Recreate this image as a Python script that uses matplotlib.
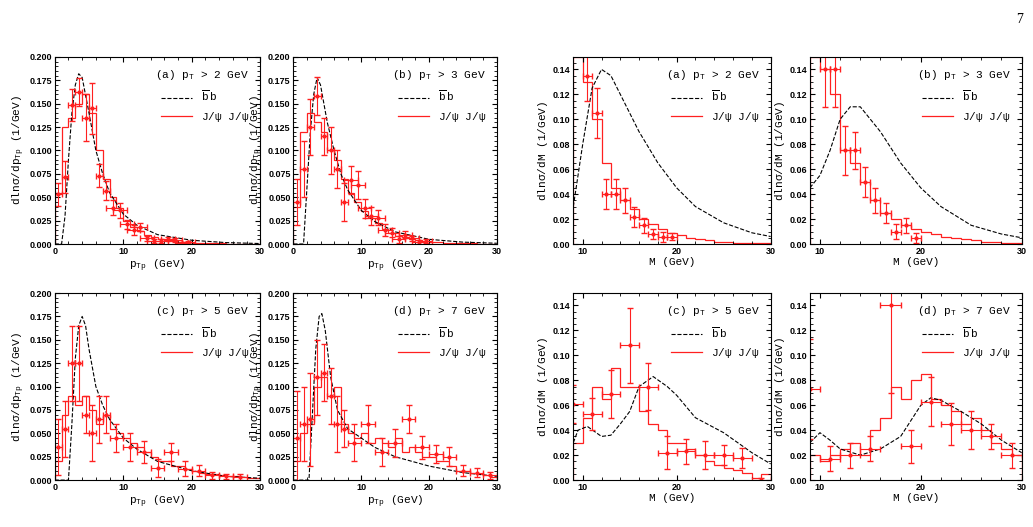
import numpy as np
import matplotlib
matplotlib.use("Agg")
import matplotlib.pyplot as plt
from matplotlib.lines import Line2D

plt.rcParams['font.family'] = ['Liberation Sans', 'DejaVu Sans']
plt.rcParams['font.size'] = 7
plt.rcParams['mathtext.default'] = 'regular'

# ---- pT panels: 1 GeV bins 0..30 ----
pt_edges = np.arange(0, 31, 1)
pt_labels = ["(a) $p_T$ > 2 GeV", "(b) $p_T$ > 3 GeV", "(c) $p_T$ > 5 GeV", "(d) $p_T$ > 7 GeV"]

pt_hist = [
    [0.055, 0.125, 0.135, 0.15, 0.16, 0.14, 0.10, 0.07, 0.05, 0.038, 0.025, 0.018, 0.014, 0.010, 0.007,
     0.005, 0.004, 0.003, 0.002, 0.002, 0.001, 0.001, 0.001, 0.0008, 0.0006, 0.0005, 0.0004, 0.0003, 0.0002, 0.0002],
    [0.04, 0.12, 0.14, 0.13, 0.12, 0.10, 0.09, 0.07, 0.055, 0.045, 0.035, 0.028, 0.022, 0.016, 0.012,
     0.009, 0.007, 0.005, 0.004, 0.003, 0.002, 0.002, 0.0015, 0.001, 0.001, 0.0008, 0.0006, 0.0005, 0.0004, 0.0003],
    [0.02, 0.07, 0.09, 0.08, 0.09, 0.075, 0.06, 0.07, 0.055, 0.05, 0.045, 0.04, 0.035, 0.03, 0.025,
     0.02, 0.02, 0.015, 0.015, 0.012, 0.01, 0.008, 0.007, 0.006, 0.005, 0.004, 0.004, 0.003, 0.002, 0.002],
    [0.02, 0.05, 0.06, 0.10, 0.11, 0.09, 0.10, 0.06, 0.05, 0.045, 0.05, 0.04, 0.045, 0.04, 0.035,
     0.045, 0.03, 0.035, 0.03, 0.025, 0.025, 0.02, 0.02, 0.015, 0.01, 0.01, 0.008, 0.006, 0.005, 0.003],
]

pt_bb_x = [
    [0, 1, 1.5, 2, 2.5, 3, 3.5, 4, 5, 6, 7, 8, 10, 12, 15, 20, 25, 30],
    [0, 1.5, 2, 2.5, 3, 3.5, 4, 5, 6, 7, 8, 10, 12, 15, 20, 25, 30],
    [0, 2, 2.5, 3, 3.5, 4, 4.5, 5, 6, 7, 8, 10, 12, 15, 20, 25, 30],
    [0, 2.3, 2.8, 3.3, 3.8, 4.2, 4.7, 5.5, 6.5, 8, 10, 12, 15, 20, 25, 30],
]
pt_bb_y = [
    [0, 0, 0.03, 0.09, 0.14, 0.17, 0.182, 0.178, 0.14, 0.10, 0.075, 0.055, 0.032, 0.02, 0.01, 0.004, 0.0015, 0.0005],
    [0, 0, 0.06, 0.12, 0.16, 0.178, 0.17, 0.13, 0.10, 0.075, 0.058, 0.036, 0.024, 0.013, 0.005, 0.002, 0.0008],
    [0, 0, 0.06, 0.13, 0.165, 0.175, 0.165, 0.14, 0.10, 0.08, 0.065, 0.045, 0.033, 0.02, 0.01, 0.004, 0.002],
    [0, 0, 0.07, 0.14, 0.175, 0.178, 0.16, 0.11, 0.075, 0.055, 0.045, 0.035, 0.025, 0.015, 0.008, 0.004],
]

pt_pts_x = [
    [0.5, 1.5, 2.5, 3.5, 4.5, 5.5, 6.5, 7.5, 8.5, 9.5, 10.5, 11.5, 12.5, 13.5, 14.5, 15.5, 16.5, 17.5, 18.5, 19.5],
    [0.5, 1.5, 2.5, 3.5, 4.5, 5.5, 6.5, 7.5, 8.5, 9.5, 10.5, 11.5, 12.5, 13.5, 14.5, 15.5, 16.5, 17.5, 18.5, 19.5],
    [0.5, 1.5, 2.5, 3.5, 4.5, 5.5, 6.5, 7.5, 9, 11, 13, 15, 17, 19, 21, 23, 25, 27],
    [0.5, 1.5, 2.5, 3.5, 4.5, 5.5, 6.5, 7.5, 9, 11, 13, 15, 17, 19, 21, 23, 25, 27, 29],
]
pt_pts_y = [
    [0.053, 0.072, 0.149, 0.162, 0.135, 0.145, 0.073, 0.057, 0.039, 0.036, 0.021, 0.015, 0.018, 0.006, 0.003,
     0.003, 0.005, 0.004, 0.001, 0.002],
    [0.045, 0.08, 0.125, 0.158, 0.115, 0.10, 0.08, 0.045, 0.068, 0.063, 0.038, 0.03, 0.028, 0.015, 0.012,
     0.005, 0.01, 0.006, 0.002, 0.003],
    [0.035, 0.055, 0.125, 0.125, 0.07, 0.05, 0.065, 0.07, 0.045, 0.035, 0.03, 0.013, 0.03, 0.012, 0.01, 0.005, 0.004, 0.003],
    [0.045, 0.06, 0.065, 0.11, 0.115, 0.09, 0.06, 0.055, 0.04, 0.06, 0.03, 0.04, 0.065, 0.035, 0.028, 0.025, 0.01, 0.008, 0.005],
]
pt_pts_err = [
    [0.012, 0.017, 0.017, 0.015, 0.025, 0.027, 0.012, 0.01, 0.008, 0.008, 0.005, 0.005, 0.004, 0.003, 0.002,
     0.002, 0.002, 0.002, 0.001, 0.001],
    [0.025, 0.03, 0.03, 0.02, 0.02, 0.025, 0.02, 0.02, 0.015, 0.015, 0.01, 0.01, 0.008, 0.006, 0.005,
     0.004, 0.004, 0.003, 0.002, 0.002],
    [0.03, 0.03, 0.04, 0.04, 0.02, 0.03, 0.025, 0.02, 0.015, 0.015, 0.012, 0.01, 0.01, 0.008, 0.006, 0.004, 0.003, 0.003],
    [0.05, 0.04, 0.05, 0.04, 0.03, 0.03, 0.03, 0.02, 0.02, 0.02, 0.015, 0.015, 0.015, 0.012, 0.01, 0.01, 0.006, 0.005, 0.004],
]

# ---- M panels: 1 GeV bins 9..30 ----
m_edges = np.arange(9, 31, 1)
m_hist = [
    [0.15, 0.13, 0.10, 0.065, 0.045, 0.035, 0.028, 0.02, 0.016, 0.012, 0.009, 0.007, 0.005, 0.004, 0.003,
     0.002, 0.002, 0.001, 0.001, 0.001, 0.0005],
    [0.15, 0.14, 0.12, 0.075, 0.065, 0.05, 0.035, 0.025, 0.02, 0.015, 0.012, 0.01, 0.008, 0.006, 0.005,
     0.004, 0.003, 0.002, 0.002, 0.001, 0.001],
    [0.03, 0.05, 0.075, 0.065, 0.09, 0.075, 0.075, 0.055, 0.045, 0.04, 0.03, 0.03, 0.025, 0.02, 0.015,
     0.012, 0.01, 0.008, 0.006, 0.002, 0.005],
    [0.02, 0.015, 0.02, 0.025, 0.03, 0.02, 0.04, 0.05, 0.075, 0.065, 0.08, 0.085, 0.065, 0.06, 0.055,
     0.045, 0.05, 0.04, 0.03, 0.025, 0.02],
]
m_bb_x = [
    [9, 10, 11, 12, 13, 14, 15, 16, 18, 20, 22, 25, 28, 30],
    [9, 10, 11, 12, 13, 14, 15, 16, 18, 20, 22, 25, 28, 30],
    [9, 9.5, 10.5, 12, 13, 14, 15, 16, 17.5, 19, 20, 22, 25, 28, 30],
    [9, 10, 11, 12, 14, 16, 18, 20, 21, 22, 24, 26, 28, 30],
]
m_bb_y = [
    [0.03, 0.08, 0.125, 0.14, 0.135, 0.12, 0.105, 0.09, 0.065, 0.045, 0.03, 0.017, 0.009, 0.006],
    [0.045, 0.055, 0.075, 0.10, 0.11, 0.11, 0.10, 0.09, 0.065, 0.045, 0.03, 0.015, 0.008, 0.005],
    [0.03, 0.04, 0.043, 0.035, 0.036, 0.045, 0.055, 0.075, 0.083, 0.075, 0.068, 0.05, 0.038, 0.022, 0.013],
    [0.03, 0.038, 0.032, 0.025, 0.02, 0.025, 0.035, 0.06, 0.066, 0.064, 0.055, 0.045, 0.032, 0.022],
]
m_pts_x = [
    [10.5, 11.5, 12.5, 13.5, 14.5, 15.5, 16.5, 17.5, 18.5, 19.5],
    [10.5, 11.5, 12.5, 13.5, 14.5, 15.5, 16.5, 17.5, 18.5, 19.5],
    [9, 11, 13, 15, 17, 19, 21, 23, 25, 27, 29],
    [9, 11, 13, 15, 17, 19, 21, 23, 25, 27, 29],
]
m_pts_y = [
    [0.135, 0.105, 0.04, 0.04, 0.035, 0.022, 0.015, 0.008, 0.006, 0.006],
    [0.14, 0.14, 0.075, 0.075, 0.05, 0.035, 0.025, 0.01, 0.015, 0.005],
    [0.061, 0.053, 0.069, 0.108, 0.075, 0.022, 0.023, 0.02, 0.02, 0.018, 0.0],
    [0.073, 0.017, 0.02, 0.025, 0.14, 0.027, 0.063, 0.045, 0.04, 0.035, 0.02],
]
m_pts_err = [
    [0.02, 0.02, 0.012, 0.012, 0.01, 0.008, 0.006, 0.004, 0.004, 0.003],
    [0.03, 0.03, 0.02, 0.015, 0.012, 0.01, 0.008, 0.006, 0.006, 0.004],
    [0.015, 0.013, 0.019, 0.03, 0.019, 0.013, 0.01, 0.011, 0.008, 0.008, 0.002],
    [0.04, 0.01, 0.01, 0.01, 0.07, 0.013, 0.02, 0.017, 0.015, 0.01, 0.01],
]
m_labels = pt_labels

red = "#ff2020"
mono = ["Liberation Mono", "DejaVu Sans"]
fig = plt.figure(figsize=(10.33, 5.27), dpi=100)

col_x = [(0.053, 0.199), (0.284, 0.197), (0.555, 0.191), (0.784, 0.205)]
row_y = [0.537, 0.089]
H = 0.355


def style(ax):
    ax.tick_params(direction="in", which="both", top=True, right=True, labelsize=6.5, pad=2)
    ax.minorticks_on()
    for lab in ax.get_xticklabels() + ax.get_yticklabels():
        lab.set_fontweight("bold")


def legend(ax, title):
    h = [Line2D([], [], color="black", ls="--", lw=0.8), Line2D([], [], color=red, lw=0.9)]
    leg = ax.legend(h, [r"$\overline{b}\,$b", r"J/$\psi$ J/$\psi$"], title=title, loc="upper right",
                    frameon=False, handlelength=2.8, borderaxespad=0.6, labelspacing=0.6,
                    prop={"family": mono, "size": 8})
    leg.get_title().set_fontfamily(mono)
    leg.get_title().set_fontsize(8)
    leg._legend_box.align = "right"


for i in range(4):
    r, c = divmod(i, 2)
    ax = fig.add_axes([col_x[c][0], row_y[r], col_x[c][1], H])
    ax.stairs(pt_hist[i], pt_edges, color=red, lw=0.9)
    ax.plot(pt_bb_x[i], pt_bb_y[i], color="black", ls="--", lw=0.8)
    xe = [0.5 if x < 8 else 1.0 for x in pt_pts_x[i]]
    ax.errorbar(pt_pts_x[i], pt_pts_y[i], yerr=pt_pts_err[i], xerr=xe, fmt="o", ms=2, color=red,
                elinewidth=0.8, capsize=2)
    ax.set_xlim(0, 30)
    ax.set_ylim(0, 0.2)
    ax.set_xticks([0, 10, 20, 30])
    ax.set_yticks(np.arange(0, 0.201, 0.025))
    ax.set_xlabel(r"p$_{Tp}$ (GeV)", family=mono, fontsize=8, labelpad=1)
    ax.set_ylabel(r"dln$\sigma$/dp$_{Tp}$ (1/GeV)", family=mono, fontsize=8, labelpad=2)
    style(ax)
    legend(ax, pt_labels[i])

for i in range(4):
    r, c = divmod(i, 2)
    ax = fig.add_axes([col_x[c + 2][0], row_y[r], col_x[c + 2][1], H])
    ax.stairs(m_hist[i], m_edges, color=red, lw=0.9)
    ax.plot(m_bb_x[i], m_bb_y[i], color="black", ls="--", lw=0.8)
    xe = 0.5 if i < 2 else 1.0
    ax.errorbar(m_pts_x[i], m_pts_y[i], yerr=m_pts_err[i], xerr=xe, fmt="o", ms=2, color=red,
                elinewidth=0.8, capsize=2)
    ax.set_xlim(9, 30)
    ax.set_ylim(0, 0.15)
    ax.set_xticks([10, 20, 30])
    ax.set_yticks(np.arange(0, 0.141, 0.02))
    ax.set_xlabel("M (GeV)", family=mono, fontsize=8, labelpad=1)
    ax.set_ylabel(r"dln$\sigma$/dM (1/GeV)", family=mono, fontsize=8, labelpad=2)
    style(ax)
    legend(ax, m_labels[i])

fig.text(0.99, 0.975, "7", ha="right", va="top", fontsize=10, family="Liberation Serif")
fig.savefig("out.png", dpi=100)
